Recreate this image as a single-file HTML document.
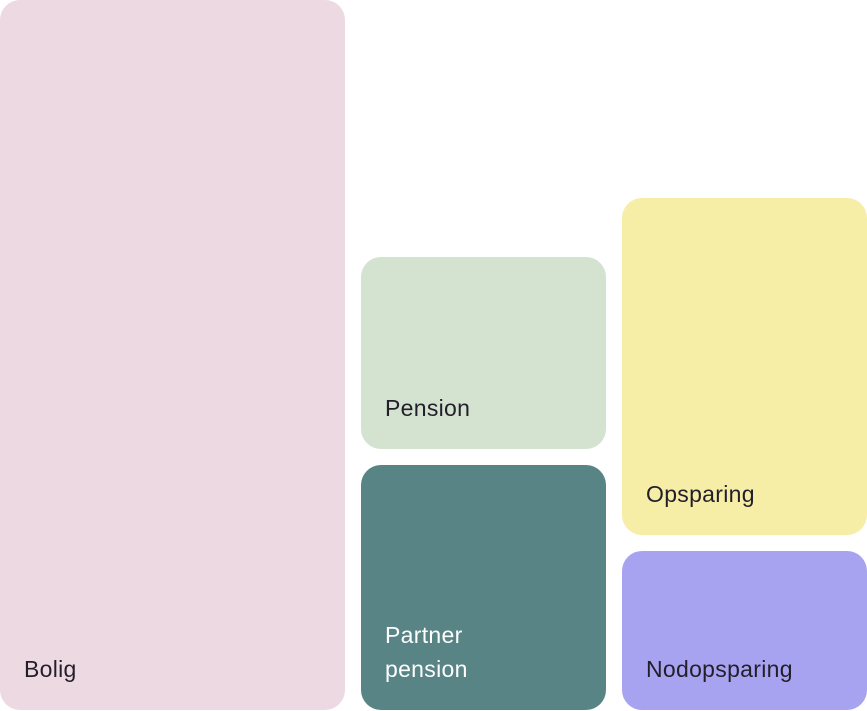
<!DOCTYPE html>
<html><head><style>
body{margin:0;width:867px;height:711px;background:#fff;position:relative;overflow:hidden;font-family:"Liberation Sans",sans-serif}
.b{position:absolute;border-radius:20px}
.t{position:absolute;font-size:23px;line-height:34px;color:#231f2a;letter-spacing:0.3px}
</style></head><body>
<div class="b" style="left:0;top:0;width:345px;height:710px;background:#edd9e1"></div>
<div class="b" style="left:361px;top:257px;width:245px;height:192px;background:#d4e2d0"></div>
<div class="b" style="left:361px;top:465px;width:245px;height:245px;background:#588486"></div>
<div class="b" style="left:622px;top:198px;width:245px;height:337px;background:#f6eda7"></div>
<div class="b" style="left:622px;top:551px;width:245px;height:159px;background:#a7a3f1"></div>
<div class="t" style="left:24px;top:652px">Bolig</div>
<div class="t" style="left:385px;top:391px">Pension</div>
<div class="t" style="left:385px;top:618px;color:#fff">Partner<br>pension</div>
<div class="t" style="left:646px;top:477px">Opsparing</div>
<div class="t" style="left:646px;top:652px">Nodopsparing</div>
</body></html>
